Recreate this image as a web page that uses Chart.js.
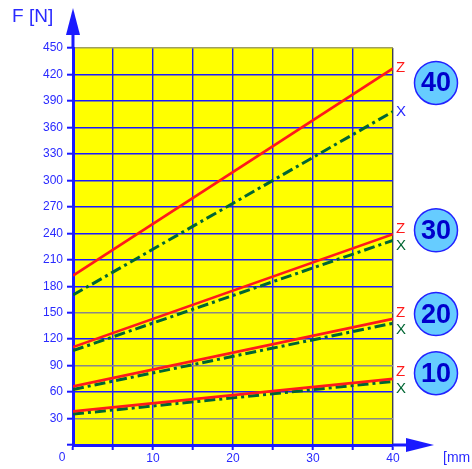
<!DOCTYPE html>
<html>
<head>
<meta charset="utf-8">
<script src="https://cdn.jsdelivr.net/npm/chart.js@4/dist/chart.umd.min.js"></script>
<style>
  html, body { margin: 0; padding: 0; background: #ffffff; }
  canvas { display: block; }
</style>
</head>
<body>
<canvas id="chart" width="472" height="469"></canvas>
<script>
// ---------- DATA ----------
const strokes = [0, 40];            // x [mm]
const groups = ["10", "20", "30", "40"];
const zForce = [[38, 75], [66.5, 143], [111, 239], [192, 427]];
const xForce = [[35, 72], [63, 138], [107, 232], [170, 378]];
const xLabelColors = ["#006633", "#006633", "#006633", "#2a2aff"];
const yTicks = [0, 450, 30];        // min, max, step
const xTicks = [0, 40, 5];

const BLUE = "#1a1aff";
const TXT = "#2a2aff";

// ---------- DATASETS ----------
const datasets = [];
groups.forEach(function (g, i) {
    datasets.push({
        label: "Z" + g,
        data: strokes.map((s, k) => ({ x: s, y: zForce[i][k] })),
        borderColor: "#ff1a1a",
        borderWidth: 2.7,
        pointRadius: 0,
        order: 0
    });
    datasets.push({
        label: "X" + g,
        data: strokes.map((s, k) => ({ x: s, y: xForce[i][k] })),
        borderColor: "#006633",
        borderWidth: 3,
        borderDash: [11, 4, 3, 4],
        pointRadius: 0,
        order: 1
    });
});

// ---------- DECORATION ----------
const extras = {
    id: "extras",
    afterDraw(chart) {
        const c = chart.ctx;
        const a = chart.chartArea;
        const ys = chart.scales.y;
        c.save();

        // axis extensions + arrows
        c.strokeStyle = BLUE;
        c.fillStyle = BLUE;
        c.lineWidth = 3;
        c.beginPath();
        c.moveTo(a.left, a.top);
        c.lineTo(a.left, 30);
        c.moveTo(a.right, a.bottom);
        c.lineTo(410, a.bottom);
        c.stroke();
        c.beginPath();
        c.moveTo(a.left, 8);
        c.lineTo(a.left - 7, 35);
        c.lineTo(a.left + 7, 35);
        c.closePath();
        c.fill();
        c.beginPath();
        c.moveTo(434, a.bottom);
        c.lineTo(406, a.bottom - 7);
        c.lineTo(406, a.bottom + 7);
        c.closePath();
        c.fill();

        // axis titles
        c.fillStyle = TXT;
        c.textBaseline = "middle";
        c.textAlign = "left";
        c.font = "19px 'Liberation Sans', Arial, sans-serif";
        c.fillText("F [N]", 12, 17);
        c.font = "14px 'Liberation Sans', Arial, sans-serif";
        c.fillText("[mm", 443, 458);
        c.font = "12px 'Liberation Sans', Arial, sans-serif";
        c.textAlign = "center";
        c.fillText("0", 62, 458);

        // end labels and group circles
        groups.forEach(function (g, i) {
            const zy = ys.getPixelForValue(zForce[i][1]);
            const xy = ys.getPixelForValue(xForce[i][1]);
            const mid = (zy + xy) / 2;
            let zl = zy, xl = xy;
            if (xy - zy < 17) { zl = mid - 8.5; xl = mid + 8.5; }
            c.font = "15px 'Liberation Sans', Arial, sans-serif";
            c.textAlign = "left";
            c.fillStyle = "#ff1a1a";
            c.fillText("Z", a.right + 3, zl);
            c.fillStyle = xLabelColors[i];
            c.fillText("X", a.right + 3, xl);

            const cy = mid - 7;
            c.beginPath();
            c.arc(436, cy, 21.5, 0, Math.PI * 2);
            c.fillStyle = "#66ccff";
            c.fill();
            c.lineWidth = 1.5;
            c.strokeStyle = "#2222ff";
            c.stroke();
            c.fillStyle = "#0000cc";
            c.textAlign = "center";
            c.font = "bold 27px 'Liberation Sans', Arial, sans-serif";
            c.fillText(g, 436, cy + 1);
        });
        c.restore();
    }
};

const plotBg = {
    id: "plotBg",
    beforeDraw(chart) {
        const a = chart.chartArea;
        chart.ctx.save();
        chart.ctx.fillStyle = "#ffff00";
        chart.ctx.fillRect(a.left, a.top, a.right - a.left, a.bottom - a.top);
        chart.ctx.restore();
    }
};

// ---------- CHART ----------
new Chart(document.getElementById("chart"), {
    type: "line",
    data: { datasets: datasets },
    plugins: [plotBg, extras],
    options: {
        responsive: false,
        animation: false,
        devicePixelRatio: 1,
        layout: { padding: { left: 0, top: 48, right: 79, bottom: 0 } },
        plugins: { legend: { display: false }, tooltip: { enabled: false } },
        scales: {
            x: {
                type: "linear",
                min: xTicks[0], max: xTicks[1],
                afterFit: s => { s.height = 24; },
                ticks: {
                    stepSize: xTicks[2],
                    autoSkip: false,
                    maxRotation: 0,
                    padding: 1,
                    color: TXT,
                    font: { family: "'Liberation Sans', Arial, sans-serif", size: 12 },
                    callback: v => (v % 10 === 0 && v !== 0) ? v : ""
                },
                grid: {
                    color: ctx => ctx.tick && ctx.tick.value === 40 ? "#404050" : BLUE,
                    lineWidth: 1.4,
                    tickLength: 5,
                    tickColor: BLUE,
                    tickWidth: 2
                },
                border: { color: BLUE, width: 3 }
            },
            y: {
                min: yTicks[0], max: yTicks[1],
                afterFit: s => { s.width = 73; },
                ticks: {
                    stepSize: yTicks[2],
                    autoSkip: false,
                    padding: 4,
                    color: TXT,
                    font: { family: "'Liberation Sans', Arial, sans-serif", size: 12 },
                    callback: v => v === 0 ? "" : v
                },
                grid: {
                    color: function (ctx) {
                        const v = ctx.tick ? ctx.tick.value : -1;
                        if (v === 450) return "#a0a060";
                        if (v === 30 || v === 90 || v === 150) return "#888888";
                        return BLUE;
                    },
                    lineWidth: 1.4,
                    tickLength: 6,
                    tickColor: BLUE,
                    tickWidth: 2
                },
                border: { color: BLUE, width: 3 }
            }
        }
    }
});
</script>
</body>
</html>
